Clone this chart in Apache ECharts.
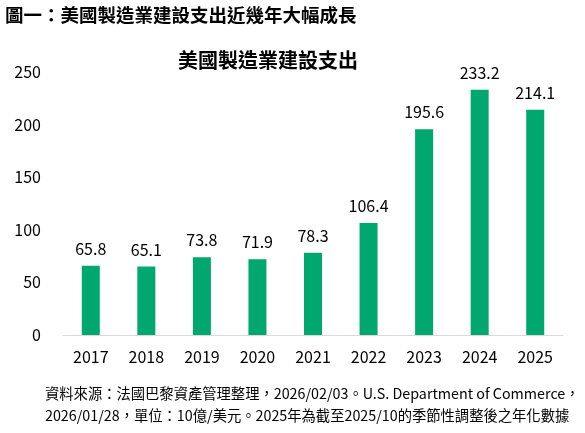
<!DOCTYPE html>
<html>
<head>
<meta charset="utf-8">
<script src="https://cdn.jsdelivr.net/npm/echarts@6/dist/echarts.min.js"></script>
<style>
html, body { margin: 0; padding: 0; background: #fff; }
#chart { width: 585px; height: 433px; }
</style>
</head>
<body>
<div id="chart"></div>
<script>
var years = ['2017', '2018', '2019', '2020', '2021', '2022', '2023', '2024', '2025'];
var spending = [65.8, 65.1, 73.8, 71.9, 78.3, 106.4, 195.6, 233.2, 214.1];
var yTicks = [0, 50, 100, 150, 200, 250];

(function(){
	var font = '"Noto Sans CJK TC", "Open Sans", sans-serif';
	var myChart = echarts.init(document.getElementById('chart'));
	var option = {
		animation: false,
		textStyle: { fontFamily: font },
		title: [
			{
				text: '圖一：美國製造業建設支出近幾年大幅成長',
				left: 0, top: 1,
				textStyle: { fontSize: 18.5, fontWeight: 'bold', color: '#000', fontFamily: font }
			},
			{
				text: '美國製造業建設支出',
				left: 263, top: 45, textAlign: 'center',
				textStyle: { fontSize: 20, fontWeight: 'bold', color: '#000', fontFamily: font }
			},
			{
				text: '資料來源：法國巴黎資產管理整理，2026/02/03。U.S. Department of Commerce，\n2026/01/28，單位：10億/美元。2025年為截至2025/10的季節性調整後之年化數據',
				left: 40, top: 378,
				textStyle: { fontSize: 14.3, fontWeight: 'normal', color: '#000', lineHeight: 22, fontFamily: font }
			}
		],
		grid: { left: 63, right: 22, top: 72, bottom: 98 },
		xAxis: {
			type: 'category',
			data: years,
			axisLine: { show: true, lineStyle: { color: '#d9d9d9', width: 1 } },
			axisTick: { show: false },
			axisLabel: { fontSize: 16, color: '#000', margin: 14 }
		},
		yAxis: {
			type: 'value',
			min: yTicks[0],
			max: yTicks[yTicks.length - 1],
			interval: 50,
			splitLine: { show: false },
			axisLine: { show: false },
			axisTick: { show: false },
			axisLabel: { fontSize: 16, color: '#000', margin: 22 }
		},
		series: [
			{
				type: 'bar',
				data: spending,
				barWidth: 18,
				itemStyle: { color: '#00a76f' },
				label: {
					show: true,
					position: 'top',
					distance: 9,
					fontSize: 16,
					color: '#000',
					formatter: function(p) { return p.value.toFixed(1); }
				}
			}
		]
	};
	myChart.setOption(option);
})();
</script>
</body>
</html>
